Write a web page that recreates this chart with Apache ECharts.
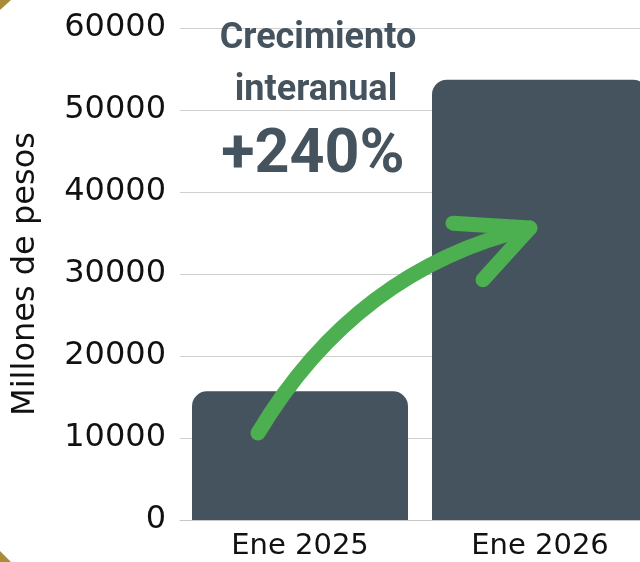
<!DOCTYPE html>
<html>
<head>
<meta charset="utf-8">
<script src="https://cdn.jsdelivr.net/npm/echarts@6/dist/echarts.min.js"></script>
<style>
html,body{margin:0;padding:0;background:#fff;overflow:hidden;width:640px;height:562px;}
#c{width:660px;height:562px;}
</style>
</head>
<body>
<div id="c"></div>
<script>
const categories = ['Ene 2025', 'Ene 2026'];
const values = [15700, 53700];
const yTicks = [0, 10000, 20000, 30000, 40000, 50000, 60000];
const axisName = 'Millones de pesos';
const titleLines = ['Crecimiento', 'interanual'];
const growthLabel = '+240%';
// arrow anchors: [category index, offset in band fraction, value]
const arrowStart = [0, -0.175, 10600];
const arrowCtrl = [0, 0.233, 30550];
const arrowEnd = [1, -0.042, 35600];
const barbTop = [1, -0.3625, 36200];
const barbBottom = [1, -0.2375, 29300];

const chart = echarts.init(document.getElementById('c'));
const BAR = '#45535e';
const GREEN = '#4caf50';

chart.setOption({
  backgroundColor: '#fff',
  animation: false,
  grid: {left: 180, right: 0, top: 28, bottom: 42, containLabel: false},
  xAxis: {
    type: 'category',
    data: categories,
    axisTick: {show: false},
    axisLine: {lineStyle: {color: '#c8c8c8', width: 1}},
    axisLabel: {color: '#111', fontSize: 29, fontFamily: 'DejaVu Sans', margin: 12}
  },
  yAxis: {
    type: 'value',
    min: yTicks[0],
    max: yTicks[yTicks.length - 1],
    interval: yTicks[1] - yTicks[0],
    name: axisName,
    nameLocation: 'middle',
    nameGap: 138,
    nameTextStyle: {color: '#111', fontSize: 32, fontFamily: 'DejaVu Sans'},
    axisLabel: {color: '#111', fontSize: 32, fontFamily: 'DejaVu Sans', margin: 14, formatter: v => String(v)},
    splitLine: {lineStyle: {color: '#cfcfcf', width: 1}},
    axisLine: {show: false},
    axisTick: {show: false}
  },
  series: [{
    type: 'bar',
    data: values,
    barWidth: '90%',
    itemStyle: {color: BAR, borderRadius: [15, 15, 0, 0]}
  }]
});

function px(a) {
  const p0 = chart.convertToPixel({seriesIndex: 0}, [0, 0]);
  const p1 = chart.convertToPixel({seriesIndex: 0}, [1, 0]);
  const band = p1[0] - p0[0];
  const c = chart.convertToPixel({seriesIndex: 0}, [a[0], a[2]]);
  return [c[0] + a[1] * band, c[1]];
}
const s = px(arrowStart), cp = px(arrowCtrl), e = px(arrowEnd), bt = px(barbTop), bb = px(barbBottom);

chart.setOption({
  graphic: [
    {type: 'polygon', shape: {points: [[0, 0], [11, 0], [0, 10]]}, style: {fill: '#a98b3a'}, z: 100},
    {type: 'polygon', shape: {points: [[0, 551], [0, 562], [11, 562]]}, style: {fill: '#a98b3a'}, z: 100},
    {type: 'bezierCurve', shape: {x1: s[0], y1: s[1], x2: e[0], y2: e[1], cpx1: cp[0], cpy1: cp[1]},
      style: {stroke: GREEN, lineWidth: 15, lineCap: 'round', fill: null}, z: 50},
    {type: 'polyline', shape: {points: [bt, e, bb]},
      style: {stroke: GREEN, lineWidth: 15, lineCap: 'round', lineJoin: 'round', fill: null}, z: 50},
    {type: 'text', x: 318, y: 39, style: {text: titleLines[0], fill: BAR, font: 'bold 36px Roboto', align: 'center', verticalAlign: 'middle'}, z: 60},
    {type: 'text', x: 316, y: 91, style: {text: titleLines[1], fill: BAR, font: 'bold 36px Roboto', align: 'center', verticalAlign: 'middle'}, z: 60},
    {type: 'text', x: 313, y: 157, style: {text: growthLabel, fill: BAR, font: 'bold 61px Roboto', align: 'center', verticalAlign: 'middle'}, z: 60}
  ]
});
</script>
</body>
</html>
